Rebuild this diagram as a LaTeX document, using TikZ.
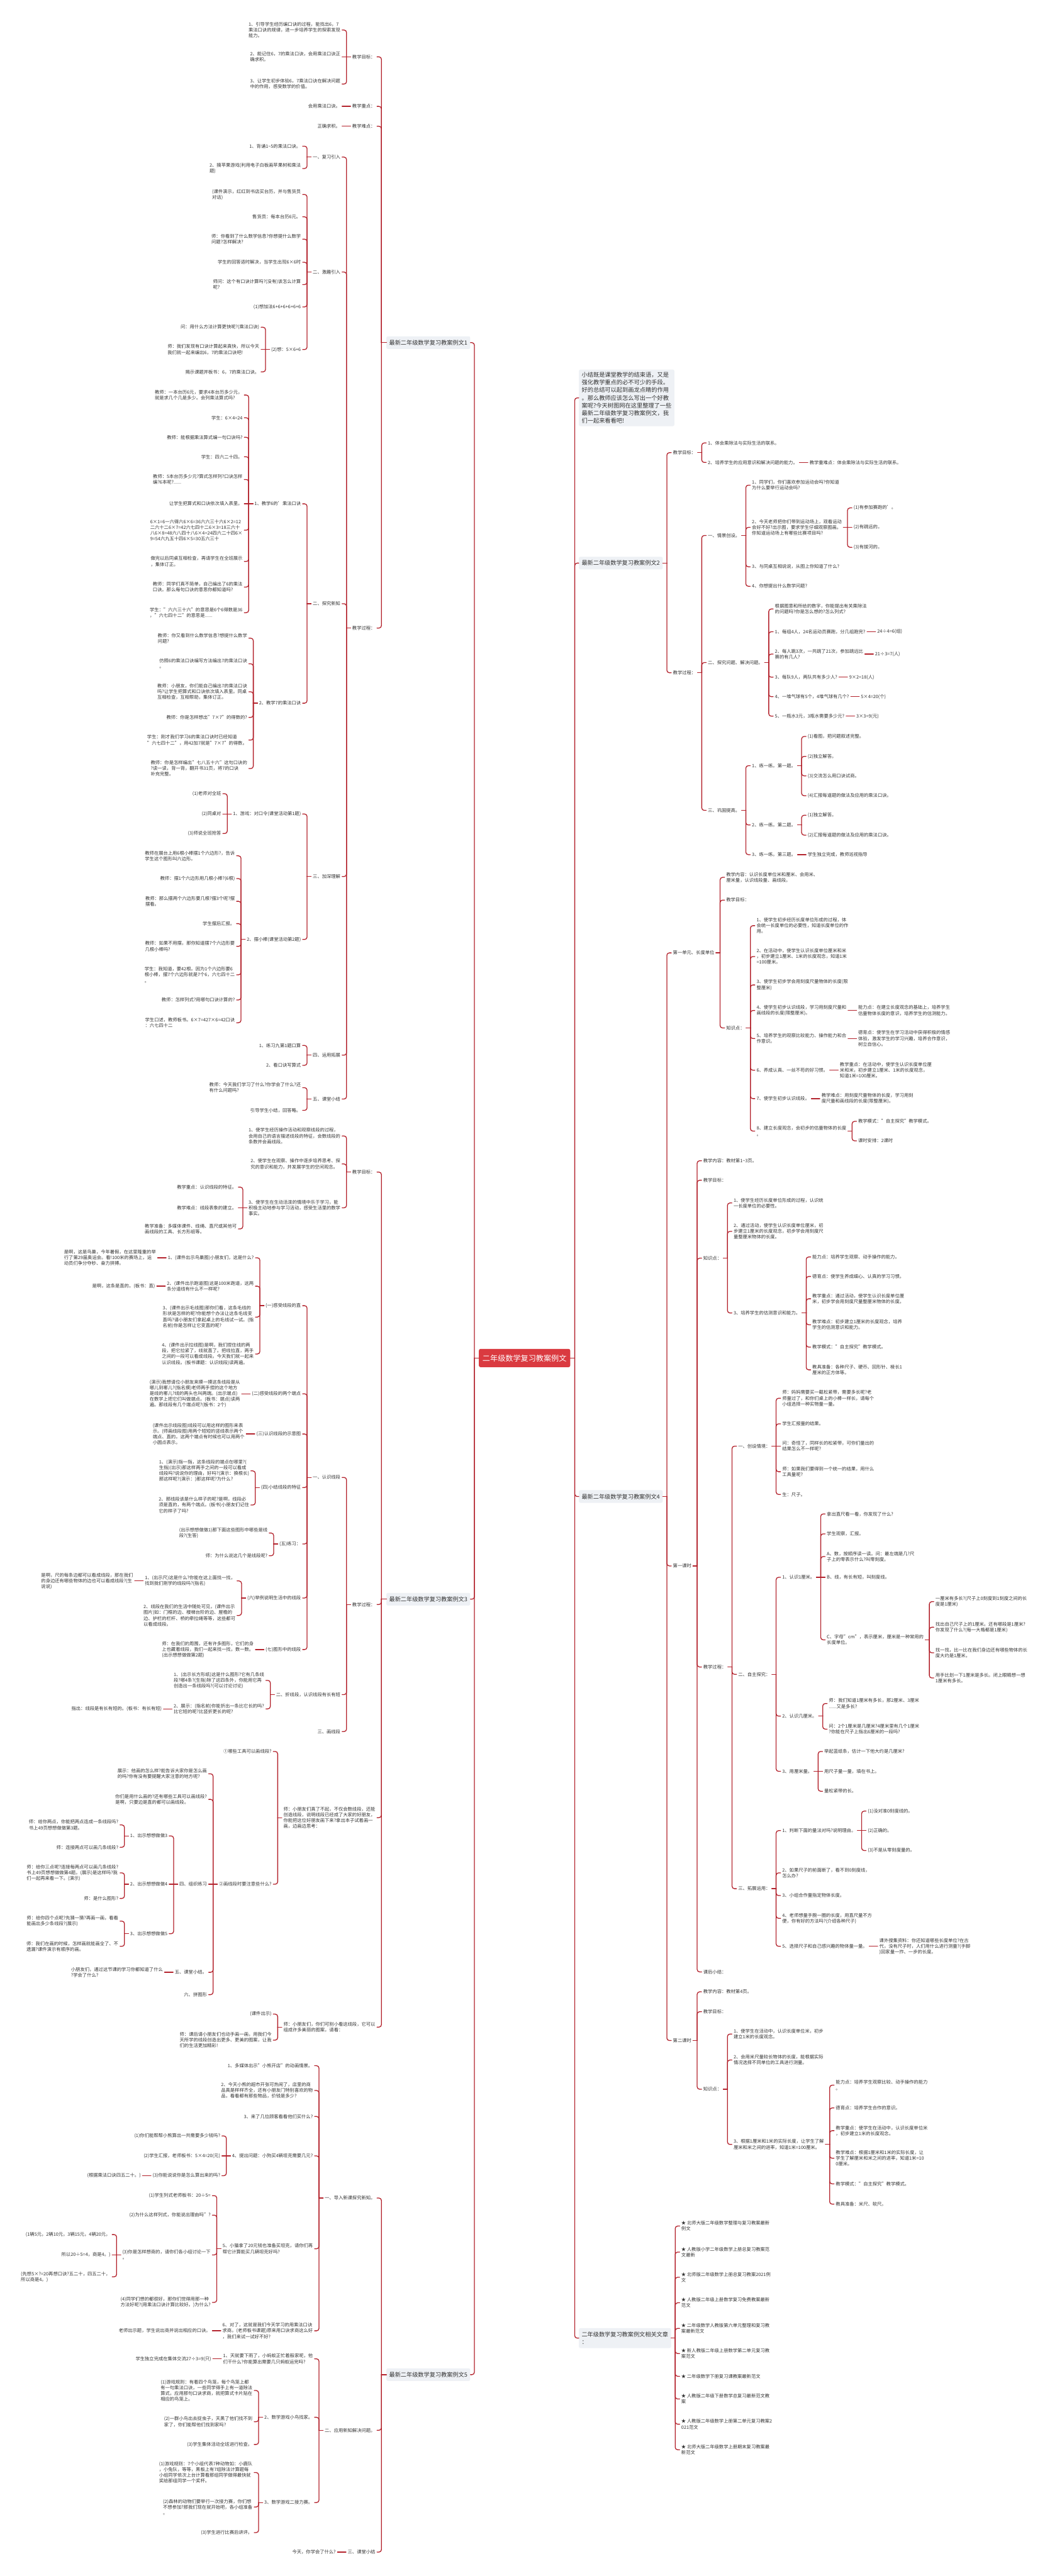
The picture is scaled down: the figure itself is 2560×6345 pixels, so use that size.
\documentclass[tikz,border=0pt]{standalone}
\usepackage{fontspec}
\setmainfont{Noto Sans CJK SC}
\definecolor{conncol}{HTML}{B3222C}
\definecolor{txtc}{HTML}{333333}
\definecolor{rootfill}{HTML}{DA3A40}
\definecolor{lonefill}{HTML}{EEF1F5}
\tikzset{
 conn/.style={draw=conncol,line width=2pt,line cap=round},
 nd/.style={font=\fontsize{11.3}{14.2}\selectfont,text=txtc,align=left,inner xsep=4pt,inner ysep=1pt},
 lone/.style={font=\fontsize{14.2}{19}\selectfont,text=txtc,align=left,fill=lonefill,rounded corners=4pt,inner xsep=7pt,inner ysep=9pt},
 rootst/.style={font=\fontsize{18.8}{22}\selectfont,text=white,fill=rootfill,rounded corners=4pt,inner xsep=9pt,minimum height=45pt}
}
\newcommand\LN[4]{%
 \node[nd,anchor=east,xshift=-11pt] (#1) at (#2-s |- 0,#3) {#4};
 \coordinate (#1-s) at ([xshift=-10pt]#1.west);
 \draw[conn] (#2.west) -- (#2-s);
 \draw[conn,rounded corners=6pt] (#2-s) |- (#1.east);}
\newcommand\LZ[3]{%
 \node[nd,anchor=east,xshift=-11pt] (#1) at (#2-s) {#3};
 \coordinate (#1-s) at ([xshift=-10pt]#1.west);
 \draw[conn] (#2.west) -- (#1.east);}
\newcommand\RN[4]{%
 \node[nd,anchor=west,xshift=11pt] (#1) at (#2-s |- 0,#3) {#4};
 \coordinate (#1-s) at ([xshift=10pt]#1.east);
 \draw[conn] (#2.east) -- (#2-s);
 \draw[conn,rounded corners=6pt] (#2-s) |- (#1.west);}
\newcommand\RZ[3]{%
 \node[nd,anchor=west,xshift=11pt] (#1) at (#2-s) {#3};
 \coordinate (#1-s) at ([xshift=10pt]#1.east);
 \draw[conn] (#2.east) -- (#1.west);}
\begin{document}
\begin{tikzpicture}[x=1pt,y=-1pt]
\fill[white] (0,0) rectangle (2560,6345);
\useasboundingbox (0,0) rectangle (2560,6345);

% root
\node[rootst] (root) at (1291.5,3345) {二年级数学复习教案例文};
\coordinate (rl) at (1168,3345);
\coordinate (rr) at (1415,3345);

% level 1 left
\node[lone,anchor=east] (a1) at (1158,844) {最新二年级数学复习教案例文1};
\coordinate (a1-s) at ([xshift=-12pt]a1.west);
\node[lone,anchor=east] (a3) at (1158,3939) {最新二年级数学复习教案例文3};
\coordinate (a3-s) at ([xshift=-12pt]a3.west);
\node[lone,anchor=east] (a5) at (1158,5849) {最新二年级数学复习教案例文5};
\coordinate (a5-s) at ([xshift=-12pt]a5.west);
% level 1 right
\node[lone,anchor=west,inner ysep=6pt,font=\fontsize{14.3}{19}\selectfont] (intro) at (1425,980) {小结既是课堂教学的结束语，又是\\强化教学重点的必不可少的手段。\\好的总结可以起到画龙点睛的作用\\。那么教师应该怎么写出一个好教\\案呢?今天树图网在这里整理了一些\\最新二年级数学复习教案例文，我\\们一起来看看吧!};
\node[lone,anchor=west] (b2) at (1425,1387) {最新二年级数学复习教案例文2};
\coordinate (b2-s) at ([xshift=10pt]b2.east);
\node[lone,anchor=west] (b4) at (1425,3686) {最新二年级数学复习教案例文4};
\coordinate (b4-s) at ([xshift=10pt]b4.east);
\node[lone,anchor=west] (b6) at (1425,5759) {二年级数学复习教案例文相关文章\\：};
\coordinate (b6-s) at ([xshift=10pt]b6.east);

\draw[conn] (root.west) -- (rl);
\draw[conn] (root.east) -- (rr);
\foreach \n in {a1,a3,a5} \draw[conn,rounded corners=6pt] (rl) |- (\n.east);
\foreach \n in {intro,b2,b4,b6} \draw[conn,rounded corners=6pt] (rr) |- (\n.west);

% ===== 例文1 =====
\LN{a1g}{a1}{140}{教学目标：}
\LN{a1g1}{a1g}{74}{1、引导学生经历编口诀的过程，能找出6，7\\乘法口诀的规律，进一步培养学生的探索发现\\能力。}
\LZ{a1g2}{a1g}{2、能记住6，7的乘法口诀，会用乘法口诀正\\确求积。}
\LN{a1g3}{a1g}{207}{3、让学生初步体验6，7乘法口诀在解决问题\\中的作用，感受数学的价值。}
\LN{a1z}{a1}{262}{教学重点：}
\LZ{a1z1}{a1z}{会用乘法口诀。}
\LN{a1n}{a1}{311}{教学难点：}
\LZ{a1n1}{a1n}{正确求积。}
\LN{a1p}{a1}{1547}{教学过程：}
\LN{p1}{a1p}{387}{一、复习引入}
\LN{p11}{p1}{360}{1、背诵1\textasciitilde 5的乘法口诀。}
\LN{p12}{p1}{415}{2、摘苹果游戏(利用电子白板画苹果树和乘法\\题)}
\LN{p2}{a1p}{670}{二、激趣引入}
\LN{p21}{p2}{479}{(课件演示，红红到书店买台历，并与售货员\\对话)}
\LN{p22}{p2}{534}{售货员：每本台历6元。}
\LN{p23}{p2}{589}{师：你看到了什么数学信息?你想提什么数学\\问题?怎样解决?}
\LN{p24}{p2}{646}{学生的回答适时解决，当学生出现6×6时}
\LN{p25}{p2}{701}{师问：这个有口诀计算吗?(没有)该怎么计算\\呢?}
\LN{p26}{p2}{756}{(1)想加法6+6+6+6+6+6}
\LN{p27}{p2}{861}{(2)想：5×6+6}
\LN{p271}{p27}{806}{问：用什么方法计算更快呢?(乘法口诀)}
\LZ{p272}{p27}{师：我们发现有口诀计算起来真快，所以今天\\我们就一起来编出6，7的乘法口诀吧!}
\LN{p273}{p27}{916}{揭示课题并板书：6，7的乘法口诀。}
\LN{p3}{a1p}{1487}{二、探究新知}
\LN{p31}{p3}{1241}{1、教学6的'乘法口诀}
\LN{p311}{p31}{973}{教师：一本台历6元，要求4本台历多少元，\\就是求几个几是多少。会列乘法算式吗?}
\LN{p312}{p31}{1029}{学生：6×4=24}
\LN{p313}{p31}{1077}{教师：能根据乘法算式编一句口诀吗?}
\LN{p314}{p31}{1125}{学生：四六二十四。}
\LN{p315}{p31}{1181}{教师：5本台历多少元?算式怎样列?口诀怎样\\编?6本呢?......}
\LZ{p316}{p31}{让学生把算式和口诀依次填入表里。}
\LN{p317}{p31}{1306}{6×1=6一六得六6×6=36六六三十六6×2=12\\二六十二6×7=42六七四十二6×3=18三六十\\八6×8=48六八四十八6×4=24四六二十四6×\\9=54六九五十四6×5=30五六三十}
\LN{p318}{p31}{1383}{做完以后同桌互相检查，再请学生在全班展示\\，集体订正。}
\LN{p319}{p31}{1446}{教师：同学们真不简单，自己编出了6的乘法\\口诀。那么每句口诀的意思你都知道吗?}
\LN{p3110}{p31}{1509}{学生："六六三十六"的意思是6个6得数是36\\，"六七四十二"的意思是......}
\LN{p32}{p3}{1732}{2、教学7的乘法口诀}
\LN{p321}{p32}{1572}{教师：你又看到什么数学信息?想提什么数学\\问题?}
\LN{p322}{p32}{1635}{仿照6的乘法口诀编写方法编出7的乘法口诀\\。}
\LN{p323}{p32}{1704}{教师：小朋友，你们能自己编出7的乘法口诀\\吗?让学生把算式和口诀依次填入表里。同桌\\互相检查，互相帮助，集体订正。}
\LN{p324}{p32}{1767}{教师：你是怎样想出"7×7"的得数的?}
\LN{p325}{p32}{1823}{学生：刚才我们学习6的乘法口诀时已经知道\\"六七四十二"，用42加7就是"7×7"的得数。}
\LN{p326}{p32}{1893}{教师：你是怎样编出"七八五十六"这句口诀的\\?读一读，背一背，翻开书31页，将7的口诀\\补充完整。}
\LN{p4}{a1p}{2159}{三、加深理解}
\LN{p41}{p4}{2005}{1、游戏：对口令(课堂活动第1题)}
\LN{p411}{p41}{1955}{(1)老师对全班}
\LZ{p412}{p41}{(2)同桌对}
\LN{p413}{p41}{2053}{(3)师说全班抢答}
\LN{p42}{p4}{2314}{2、摆小棒(课堂活动第2题)}
\LN{p421}{p42}{2108}{教师在展台上用6根小棒摆1个六边形?，告诉\\学生这个图形叫六边形。}
\LN{p422}{p42}{2164}{教师：摆1个六边形用几根小棒?(6根)}
\LN{p423}{p42}{2220}{教师：那么摆两个六边形要几根?摆3个呢?摆\\摆看。}
\LN{p424}{p42}{2275}{学生摆后汇报。}
\LN{p425}{p42}{2331}{教师：如果不用摆，那你知道摆7个六边形要\\几根小棒吗?}
\LN{p426}{p42}{2401}{学生：我知道，要42根。因为1个六边形要6\\根小棒，摆7个六边形就是7个6，六七四十二\\。}
\LN{p427}{p42}{2463}{教师：怎样列式?用哪句口诀计算的?}
\LN{p428}{p42}{2519}{学生口述，教师板书。6×7=427×6=42口诀\\：六七四十二}
\LN{p5}{a1p}{2599}{四、运用拓展}
\LN{p51}{p5}{2575}{1、练习九第1题口算}
\LN{p52}{p5}{2624}{2、看口诀写算式}
\LN{p6}{a1p}{2707}{五、课堂小结}
\LN{p61}{p6}{2679}{教师：今天我们学习了什么?你学会了什么?还\\有什么问题吗?}
\LN{p62}{p6}{2735}{引导学生小结，回答略。}

% ===== 例文3 =====
\LN{a3g}{a3}{2887}{教学目标：}
\LN{g1}{a3g}{2798}{1、使学生经历操作活动和观察线段的过程，\\会用自己的语言描述线段的特征，会数线段的\\条数并会画线段。}
\LN{g2}{a3g}{2867}{2、使学生在观察、操作中逐步培养思考、探\\究的意识和能力，并发展学生的空间观念。}
\LN{g3}{a3g}{2975}{3、使学生在生动活泼的情境中乐于学习，能\\积极主动地参与学习活动，感受生活里的数学\\事实。}
\LN{g31}{g3}{2924}{教学重点：认识线段的特征。}
\LZ{g32}{g3}{教学难点：线段表象的建立。}
\LN{g33}{g3}{3027}{教学准备：多媒体课件、线绳、直尺或其他可\\画线段的工具、长方形纸等。}
\LN{a3p}{a3}{3952}{教学过程：}
\LN{q1}{a3p}{3639}{一、认识线段}
\LN{q11}{q1}{3216}{(一)感受线段的直}
\LN{q111}{q11}{3098}{1、(课件出示鸟巢图)小朋友们，这是什么?}
\LZ{q1111}{q111}{是啊，这是鸟巢，今年暑假，在这里隆重的举\\行了第29届奥运会。看!100米的赛场上，运\\动员们争分夺秒、奋力拼搏。}
\LN{q112}{q11}{3168}{2、(课件出示跑道图)这是100米跑道，这两\\条分道线有什么不一样呢?}
\LZ{q1121}{q112}{是啊，这条是直的。(板书：直)}
\LN{q113}{q11}{3244}{3、(课件出示毛线图)那你们看，这条毛线的\\形状是怎样的呢?你能想个办法让这条毛线变\\直吗?请小朋友们拿起桌上的毛线试一试。(指\\名前)你是怎样让它变直的呢?}
\LN{q114}{q11}{3335}{4、(课件出示拉线图)是啊，我们捏住线的两\\段，把它拉紧了，线就直了。把线拉直，两手\\之间的一段可以看成线段。今天我们就一起来\\认识线段。(板书课题：认识线段)读两遍。}
\LN{q12}{q1}{3433}{(二)感受线段的两个端点}
\LZ{q121}{q12}{(演示)我想请位小朋友来摸一摸这条线段是从\\哪儿到哪儿?(指名摸)老师两手捏的这个地方\\是线的哪儿?线的两头也叫两端。(出示端点)\\在数学上把它们叫做端点。(板书：端点)读两\\遍。那线段有几个端点呢?(板书：2个)}
\LN{q13}{q1}{3532}{(三)认识线段的示意图}
\LZ{q131}{q13}{(课件出示线段图)线段可以用这样的图形来表\\示。(师画线段图)用两个短短的竖线表示两个\\端点、直的。这两个端点有时候也可以用两个\\小圆点表示。}
\LN{q14}{q1}{3664}{(四)小结线段的特征}
\LN{q141}{q14}{3623}{1、(演示)指一指，这条线段的端点在哪里?(\\生指)(出示)那这样两手之间的一段可以看成\\线段吗?说说你的理由，好吗?(演示：换根长)\\那这样呢?(演示：)那这样呢?为什么?}
\LN{q142}{q14}{3707}{2、那线段该是什么样子的呢?是啊，线段必\\须是直的，有两个端点。(板书)小朋友们记住\\它的样子了吗?}
\LN{q15}{q1}{3803}{(五)练习：}
\LN{q151}{q15}{3776}{(出示想想做做1)那下面这些图形中哪些是线\\段?(生答)}
\LN{q152}{q15}{3832}{师：为什么说这几个是线段呢?}
\LN{q16}{q1}{3936}{(六)举例说明生活中的线段}
\LN{q161}{q16}{3894}{1、(出示尺)这是什么?你能在这上面找一找，\\找到我们刚学的线段吗?(指名)}
\LZ{q1611}{q161}{是啊，尺的每条边都可以看成线段，那在我们\\的身边还有哪些物体的边也可以看成线段?(生\\说说)}
\LN{q162}{q16}{3979}{2、线段在我们的生活中随处可见，(课件出示\\图片)如：门框的边、楼梯台阶的边、屋檐的\\边、护栏的栏杆、桥的牵拉绳等等，这些都可\\以看成线段。}
\LN{q17}{q1}{4063}{(七)图形中的线段}
\LZ{q171}{q17}{师：在我们的周围，还有许多图形，它们的身\\上也藏着线段，我们一起来找一找，数一数。\\(出示想想做做第2题)}
\LN{q2}{a3p}{4174}{二、折线段，认识线段有长有短}
\LN{q21}{q2}{4139}{1、(出示长方形纸)这是什么图形?它有几条线\\段?哪4条?(生指)除了这四条外，你能用它再\\创造出一条线段吗?(可以讨论讨论)}
\LN{q22}{q2}{4209}{2、展示：(指名前)你能折出一条比它长的吗?\\比它短的呢?比竖折更长的呢?}
\LZ{q221}{q22}{指出：线段是有长有短的。(板书：有长有短)}
\LN{q3}{a3p}{4265}{三、画线段}
\LN{a3x}{a3}{4477}{师：小朋友们真了不起，不仅会数线段，还能\\创造线段，说明线段已经成了大家的好朋友，\\你能把这位好朋友画下来?拿出本子试着画一\\画，边画边思考：}
\LN{x1}{a3x}{4314}{①哪些工具可以画线段?}
\LN{x2}{a3x}{4641}{②画线段时要注意些什么?}
\LN{x21}{x2}{4369}{展示：他画的怎么样?能告诉大家你是怎么画\\的吗?你有没有要提醒大家注意的地方呢?}
\LN{x22}{x2}{4432}{你们是用什么画的?还有哪些工具可以画线段?\\是啊，只要边是直的都可以画线段。}
\LZ{x23}{x2}{四、组织练习}
\LN{x231}{x23}{4522}{1、出示想想做做3}
\LN{x2311}{x231}{4495}{师：给你两点，你能把两点连成一条线段吗?\\书上49页想想做做第3题。}
\LN{x2312}{x231}{4550}{师：连接两点可以画几条线段?}
\LZ{x232}{x23}{2、出示想想做做4}
\LN{x2321}{x232}{4613}{师：给你三点呢?连接每两点可以画几条线段?\\书上49页想想做做第4题。(展示)是这样吗?我\\们一起再来看一下。(演示)}
\LN{x2322}{x232}{4676}{师：是什么图形?}
\LN{x233}{x23}{4763}{3、出示想想做做5}
\LN{x2331}{x233}{4732}{师：给你四个点呢?先猜一猜?再画一画，看看\\能画出多少条线段?(展示)}
\LN{x2332}{x233}{4794}{师：我们在画的时候，怎样画就能画全了、不\\遗漏?课件演示有顺序的画。}
\LN{x24}{x2}{4858}{五、课堂小结。}
\LZ{x241}{x24}{小朋友们，通过这节课的学习你都知道了什么\\?学会了什么?}
\LN{x25}{x2}{4913}{六、拼图形}
\LN{a3y}{a3}{4993}{师：小朋友们，你们可别小看这线段，它可以\\组成许多美丽的图案，请看：}
\LN{y1}{a3y}{4961}{(课件出示)}
\LN{y2}{a3y}{5025}{师：课后请小朋友们也动手画一画，用我们今\\天所学的线段创造出更多、更美的图案，让我\\们的生活更加精彩!}

% ===== 例文5 =====
\LN{r1}{a5}{5414}{一、导入新课探究新知。}
\LN{r11}{r1}{5088}{1、多媒体出示"小熊开店"的动画情景。}
\LN{r12}{r1}{5149}{2、今天小熊的超市开张可热闹了，店里的商\\品真是样样齐全，还有小朋友门特别喜欢的物\\品，看看都有那些物品，价钱是多少?}
\LN{r13}{r1}{5213}{3、来了几位顾客看看他们买什么?}
\LN{r14}{r1}{5310}{4、提出问题：小狗买4辆坦克需要几元?}
\LN{r141}{r14}{5261}{(1)你们能帮帮小熊算出一共需要多少钱吗?}
\LZ{r142}{r14}{(2)学生汇报，老师板书：5×4=20(元)}
\LN{r143}{r14}{5359}{(3)你能说说你是怎么算出来的吗?}
\LZ{r1431}{r143}{(根据乘法口诀四五二十。)}
\LN{r15}{r1}{5539}{5、小猫拿了20元钱也准备买坦克，请你们再\\帮它计算能买几辆坦克好吗?}
\LN{r151}{r15}{5408}{(1)学生列式老师板书：20÷5=}
\LN{r152}{r15}{5456}{(2)为什么这样列式，你能说出理由吗"?}
\LN{r153}{r15}{5554}{(3)你是怎样想商的，请你们各小组讨论一下\\。}
\LN{r1531}{r153}{5504}{(1辆5元，2辆10元，3辆15元，4辆20元，}
\LZ{r1532}{r153}{所以20÷5=4，商是4。)}
\LN{r1533}{r153}{5608}{(先想5×?=20再想口诀?五二十，四五二十，\\所以商是4。)}
\LN{r154}{r15}{5671}{(4)同学们想的都很好，那你们觉得用那一种\\方法好呢?(用乘法口诀计算比较好。)为什么?}
\LN{r16}{r1}{5741}{6、对了，这就是我们今天学习的用乘法口诀\\求商。(老师板书课题)原来用口诀求商这么好\\，我们来试一试好不好?}
\LZ{r161}{r16}{老师出示题，学生说出商并说出相应的口诀。}
\LN{r2}{a5}{5986}{二、应用新知解决问题。}
\LN{r21}{r2}{5810}{1、天就要下雨了，小蚂蚁正忙着般家呢，他\\们干什么?你能算出需要几只蚂蚁运完吗?}
\LZ{r211}{r21}{学生独立完成在集体交流27÷3=9(只)}
\LN{r22}{r2}{5954}{2、数学游戏小鸟找家。}
\LN{r221}{r22}{5888}{(1)游戏规则：有着四个鸟笼，每个鸟笼上都\\有一句乘法口诀，一些同学得手上有一道除法\\算式，应用那句口诀求商，就把算式卡片贴在\\相应的鸟笼上。}
\LN{r222}{r22}{5965}{(2)一群小鸟出去捉虫子，天黑了他们找不到\\家了，你们能帮他们找到家吗?}
\LN{r223}{r22}{6021}{(3)学生集体活动全班进行检查。}
\LN{r23}{r2}{6164}{3、数学游戏二接力赛。}
\LN{r231}{r23}{6090}{(1)游戏规则：7个小组代表7种动物如：小鹿队\\，小兔队，等等，黑板上有7组除法计算题每\\小组同学依次上台计算看那组同学做得最快就\\奖给那组同学一个奖杯。}
\LN{r232}{r23}{6175}{(2)森林的动物们要举行一次接力赛，你们想\\不想参加?那我们现在就开始吧，各小组准备\\。}
\LN{r233}{r23}{6238}{(3)学生进行比赛后讲评。}
\LN{r3}{a5}{6286}{三、课堂小结}
\LZ{r31}{r3}{今天，你学会了什么?}

% ===== 例文2 =====
\RN{b2g}{b2}{1115}{教学目标：}
\RN{b2g1}{b2g}{1091}{1、体会乘除法与实际生活的联系。}
\RN{b2g2}{b2g}{1139}{2、培养学生的应用意识和解决问题的能力。}
\RZ{b2g21}{b2g2}{教学重难点：体会乘除法与实际生活的联系。}
\RN{b2p}{b2}{1657}{教学过程：}
\RN{s1}{b2p}{1319}{一、情景创设。}
\RN{s11}{s1}{1195}{1、同学们，你们喜欢参加运动会吗?你知道\\为什么要举行运动会吗?}
\RN{s12}{s1}{1299}{2、今天老师把你们带到运动场上，观看运动\\会好不好?出示图，要求学生仔细观察图画。\\你知道运动场上有哪些比赛项目吗?}
\RN{s121}{s12}{1251}{(1)有参加赛跑的'。}
\RZ{s122}{s12}{(2)有跳远的。}
\RN{s123}{s12}{1348}{(3)有拔河的。}
\RN{s13}{s1}{1396}{3、与同桌互相说说，从图上你知道了什么?}
\RN{s14}{s1}{1444}{4、你想提出什么数学问题?}
\RN{s2}{b2p}{1632}{二、探究问题、解决问题。}
\RN{s21}{s2}{1500}{根据图意和所给的数字，你能提出有关乘除法\\的问题吗?你是怎么想的?怎么列式?}
\RN{s22}{s2}{1556}{1、每组4人，24名运动员赛跑，分几组跑完?}
\RZ{s221}{s22}{24÷4=6(组)}
\RN{s23}{s2}{1611}{2、每人跳3次，一共跳了21次，参加跳远比\\赛的有几人?}
\RZ{s231}{s23}{21÷3=7(人)}
\RN{s24}{s2}{1668}{3、每队9人，两队共有多少人?}
\RZ{s241}{s24}{9×2=18(人)}
\RN{s25}{s2}{1716}{4、一堆气球有5个，4堆气球有几个?}
\RZ{s251}{s25}{5×4=20(个)}
\RN{s26}{s2}{1764}{5、一瓶水3元，3瓶水需要多少元?}
\RZ{s261}{s26}{3×3=9(元)}
\RN{s3}{b2p}{1996}{三、巩固提高。}
\RN{s31}{s3}{1886}{1、练一练。第一题。}
\RN{s311}{s31}{1814}{(1)看图，把问题叙述完整。}
\RN{s312}{s31}{1863}{(2)独立解答。}
\RN{s313}{s31}{1911}{(3)交流怎么用口诀试商。}
\RN{s314}{s31}{1960}{(4)汇报每道题的做法及应用的乘法口诀。}
\RN{s32}{s3}{2032}{2、练一练。第二题。}
\RN{s321}{s32}{2008}{(1)独立解答。}
\RN{s322}{s32}{2057}{(2)汇报每道题的做法及应用的乘法口诀。}
\RN{s33}{s3}{2105}{3、练一练。第三题。}
\RZ{s331}{s33}{学生独立完成，教师巡视指导}

% ===== 例文4 =====
\RN{u}{b4}{2347}{第一单元、长度单位}
\RN{u1}{u}{2161}{教学内容：认识长度单位米和厘米、会用米、\\厘米量，认识线段量、画线段。}
\RN{u2}{u}{2217}{教学目标：}
\RN{u3}{u}{2532}{知识点：}
\RN{u31}{u3}{2280}{1、使学生初步经历长度单位形成的过程，体\\会统一长度单位的必要性，知道长度单位的作\\用。}
\RN{u32}{u3}{2356}{2、在活动中，使学生认识长度单位厘米和米\\，初步建立1厘米、1米的长度观念，知道1米\\=100厘米。}
\RN{u33}{u3}{2426}{3、使学生初步学会用刻度尺量物体的长度(限\\整厘米)}
\RN{u34}{u3}{2489}{4、使学生初步认识线段，学习用刻度尺量和\\画线段的长度(限整厘米)。}
\RZ{u341}{u34}{能力点：在建立长度观念的基础上，培养学生\\估量物体长度的意识，培养学生的估测能力。}
\RN{u35}{u3}{2558}{5、培养学生的观察比较能力、操作能力和合\\作意识。}
\RZ{u351}{u35}{德育点：使学生在学习活动中获得积极的情感\\体验，激发学生的学习兴趣，培养合作意识，\\树立自信心。}
\RN{u36}{u3}{2636}{6、养成认真、一丝不苟的好习惯。}
\RZ{u361}{u36}{教学重点：在活动中，使学生认识长度单位厘\\米和米，初步建立1厘米、1米的长度观念，\\知道1米=100厘米。}
\RN{u37}{u3}{2706}{7、使学生初步认识线段。}
\RZ{u371}{u37}{教学难点：用刻度尺量物体的长度，学习用刻\\度尺量和画线段的长度(限整厘米)。}
\RN{u38}{u3}{2786}{8、建立长度观念，会初步的估量物体的长度\\。}
\RN{u381}{u38}{2762}{教学模式："自主探究"教学模式。}
\RN{u382}{u38}{2810}{课时安排：2课时}
\RN{v}{b4}{3857}{第一课时}
\RN{v1}{v}{2859}{教学内容：教材第1\textasciitilde 3页。}
\RN{v2}{v}{2907}{教学目标：}
\RN{v3}{v}{3099}{知识点：}
\RN{v31}{v3}{2963}{1、使学生经历长度单位形成的过程，认识统\\一长度单位的必要性。}
\RN{v32}{v3}{3033}{2、通过活动，使学生认识长度单位厘米，初\\步建立1厘米的长度观念，初步学会用刻度尺\\量整厘米物体的长度。}
\RN{v33}{v3}{3234}{3、培养学生的估测意识和能力。}
\RN{v331}{v33}{3096}{能力点：培养学生观察、动手操作的能力。}
\RN{v332}{v33}{3144}{德育点：使学生养成细心、认真的学习习惯。}
\RN{v333}{v33}{3199}{教学重点：通过活动，使学生认识长度单位厘\\米，初步学会用刻度尺量整厘米物体的长度。}
\RN{v334}{v33}{3263}{教学难点：初步建立1厘米的长度观念，培养\\学生的估测意识和能力。}
\RN{v335}{v33}{3318}{教学模式："自主探究"教学模式。}
\RN{v336}{v33}{3374}{教具准备：各种尺子、硬币、回形针、棱长1\\厘米的正方体等。}
\RN{v4}{v}{4106}{教学过程：}
\RN{v41}{v4}{3562}{一、创设情境：}
\RN{v411}{v41}{3444}{师：妈妈需要买一截松紧带，需要多长呢?老\\师量过了，和你们桌上的小棒一样长，请每个\\小组选择一种实物量一量。}
\RN{v412}{v41}{3507}{学生汇报量的结果。}
\RZ{v413}{v41}{问：奇怪了，同样长的松紧带，可你们量出的\\结果怎么不一样呢?}
\RN{v414}{v41}{3625}{师：如果我们要得到一个统一的结果，用什么\\工具量呢?}
\RN{v415}{v41}{3681}{生：尺子。}
\RN{v42}{v4}{4124}{二、自主探究：}
\RN{v421}{v42}{3885}{1、认识1厘米。}
\RN{v4211}{v421}{3729}{拿出直尺看一看，你发现了什么?}
\RN{v4212}{v421}{3778}{学生观察，汇报。}
\RN{v4213}{v421}{3834}{A、数，按顺序读一读。问：最左端是几?尺\\子上的零表示什么?叫零刻度。}
\RZ{v4214}{v421}{B、线，有长有短，叫刻度线。}
\RN{v4215}{v421}{4039}{C、字母"cm"，表示厘米，厘米是一种常用的\\长度单位。}
\RN{c1}{v4215}{3945}{一厘米有多长?(尺子上0刻度到1刻度之间的长\\度是1厘米)}
\RN{c2}{v4215}{4008}{找出自己尺子上的1厘米。还有哪段是1厘米?\\你发现了什么?(每一大格都是1厘米)}
\RN{c3}{v4215}{4071}{找一找，比一比在我们身边还有哪些物体的长\\度大约是1厘米。}
\RN{c4}{v4215}{4133}{用手比划一下1厘米是多长。闭上眼睛想一想\\1厘米有多长。}
\RN{v422}{v42}{4227}{2、认识几厘米。}
\RN{v4221}{v422}{4196}{师：我们知道1厘米有多长，那2厘米、3厘米\\......又是多长?}
\RN{v4222}{v422}{4259}{问：2个1厘米是几厘米?4厘米里有几个1厘米\\?你能在尺子上指出6厘米的一段吗?}
\RN{v423}{v42}{4363}{3、用厘米量。}
\RN{v4231}{v423}{4314}{举起蓝纸条，估计一下他大约是几厘米?}
\RZ{v4232}{v423}{用尺子量一量，填在书上。}
\RN{v4233}{v423}{4412}{量松紧带的长。}
\RN{v43}{v4}{4652}{三、拓展运用：}
\RN{v431}{v43}{4509}{1、判断下面的量法对吗?说明理由。}
\RN{v4311}{v431}{4461}{(1)没对准0刻度线的。}
\RZ{v4312}{v431}{(2)正确的。}
\RN{v4313}{v431}{4558}{(3)不是从零刻度量的。}
\RN{v432}{v43}{4613}{2、如果尺子的前面断了，看不到0刻度线，\\怎么办?}
\RN{v433}{v43}{4669}{3、小组合作量指定物体长度。}
\RN{v434}{v43}{4725}{4、老师想量手腕一圈的长度，用直尺量不方\\便，你有好的方法吗?(介绍各种尺子)}
\RN{v435}{v43}{4794}{5、选择尺子和自己感兴趣的物体量一量。}
\RZ{v4351}{v435}{课外搜集资料：你还知道哪些长度单位?在古\\代，没有尺子时，人们用什么进行测量?(手脚\\)回家量一拃、一步的长度。}
\RN{v5}{v}{4857}{课后小结：}
\RN{w}{b4}{5026}{第二课时}
\RN{w1}{w}{4906}{教学内容：教材第4页。}
\RN{w2}{w}{4955}{教学目标：}
\RN{w3}{w}{5146}{知识点：}
\RN{w31}{w3}{5010}{1、使学生在活动中，认识长度单位米，初步\\建立1米的长度观念。}
\RN{w32}{w3}{5074}{2、会用米尺量较长物体的长度，能根据实际\\情况选择不同单位的工具进行测量。}
\RN{w33}{w3}{5282}{3、根据1厘米和1米的实际长度，让学生了解\\厘米和米之间的进率，知道1米=100厘米。}
\RN{w331}{w33}{5136}{能力点：培养学生观察比较、动手操作的能力\\。}
\RN{w332}{w33}{5192}{德育点：培养学生合作的意识。}
\RN{w333}{w33}{5248}{教学重点：使学生在活动中，认识长度单位米\\，初步建立1米的长度观念。}
\RN{w334}{w33}{5316}{教学难点：根据1厘米和1米的实际长度，让\\学生了解厘米和米之间的进率，知道1米=10\\0厘米。}
\RN{w335}{w33}{5379}{教学模式："自主探究"教学模式。}
\RN{w336}{w33}{5429}{教具准备：米尺、软尺。}

% ===== 相关文章 =====
\RN{k1}{b6}{5483}{★ 北师大版二年级数学整理与复习教案最新\\例文}
\RN{k2}{b6}{5547}{★ 人教版小学二年级数学上册总复习教案范\\文最新}
\RN{k3}{b6}{5609}{★ 北师版二年级数学上册总复习教案2021例\\文}
\RN{k4}{b6}{5672}{★ 人教版二年级上册数学复习免费教案最新\\范文}
\RN{k5}{b6}{5735}{★ 二年级数学人教版第六单元整理和复习教\\案最新范文}
\RN{k6}{b6}{5797}{★ 新人教版二年级上册数学第二单元复习教\\案范文}
\RN{k7}{b6}{5853}{★ 二年级数学下册复习课教案最新范文}
\RN{k8}{b6}{5909}{★ 人教版二年级下册数学总复习最新范文教\\案}
\RN{k9}{b6}{5971}{★ 人教版二年级数学上册第二单元复习教案2\\021范文}
\RN{k10}{b6}{6034}{★ 北师大版二年级数学上册期末复习教案最\\新范文}
\end{tikzpicture}
\end{document}
